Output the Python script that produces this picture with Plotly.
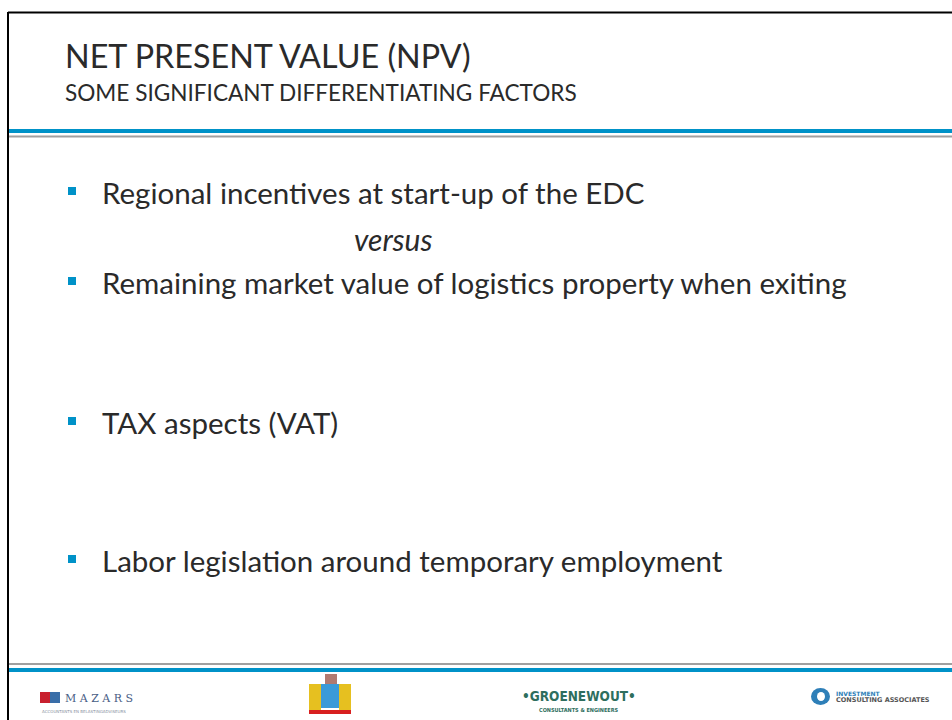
import plotly.graph_objects as go

title = "NET PRESENT VALUE (NPV)"
subtitle = "SOME SIGNIFICANT DIFFERENTIATING FACTORS"
bullet_items = [
    "Regional incentives at start-up of the EDC",
    "Remaining market value of logistics property when exiting",
    "TAX aspects (VAT)",
    "Labor legislation around temporary employment",
]
bullet_y = [191, 281, 421, 559]
between_word = "versus"

blue = "#0092C8"
grey_line = "#A0A0A0"
text_col = "#2A2A2A"
font_name = "Lato"

fig = go.Figure()

# bullet squares
fig.add_trace(go.Scatter(
    x=[72] * len(bullet_y), y=bullet_y, mode="markers",
    marker=dict(symbol="square", size=8, color=blue),
    hoverinfo="skip", showlegend=False))

annotations = []
for txt, y in zip(bullet_items, bullet_y):
    annotations.append(dict(x=100, y=y + 1, text=txt, xanchor="left", yanchor="middle",
                            showarrow=False, font=dict(family=font_name, size=29.5, color=text_col)))

annotations.append(dict(x=393, y=239, text="<i>" + between_word + "</i>", xanchor="center",
                        yanchor="middle", showarrow=False,
                        font=dict(family=font_name, size=30, color=text_col)))

annotations.append(dict(x=63, y=55, text=title, xanchor="left", yanchor="middle", showarrow=False,
                        font=dict(family=font_name, size=32.3, color=text_col)))
annotations.append(dict(x=63, y=92, text=subtitle, xanchor="left", yanchor="middle", showarrow=False,
                        font=dict(family=font_name, size=22.6, color=text_col)))

# footer logos (simplified)
annotations += [
    dict(x=63, y=698, text="M A Z A R S", xanchor="left", yanchor="middle", showarrow=False,
         font=dict(family="DejaVu Serif", size=11, color="#4A5E86")),
    dict(x=40, y=711, text="ACCOUNTANTS EN BELASTINGADVISEURS", xanchor="left", yanchor="middle",
         showarrow=False, font=dict(family="DejaVu Sans", size=4, color="#8890A0")),
    dict(x=579, y=696, text="<b>•GROENEWOUT•</b>", xanchor="center", yanchor="middle", showarrow=False,
         font=dict(family="DejaVu Sans Condensed", size=13.5, color="#2E6E5E")),
    dict(x=579, y=710, text="<b>CONSULTANTS &amp; ENGINEERS</b>", xanchor="center", yanchor="middle",
         showarrow=False, font=dict(family="DejaVu Sans Condensed", size=5.5, color="#2E6E5E")),
    dict(x=834, y=693, text="<b>INVESTMENT</b>", xanchor="left", yanchor="middle", showarrow=False,
         font=dict(family="DejaVu Sans", size=6, color="#2E7FB8")),
    dict(x=834, y=700, text="<b>CONSULTING ASSOCIATES</b>", xanchor="left", yanchor="middle",
         showarrow=False, font=dict(family="DejaVu Sans", size=6.5, color="#555555")),
]

shapes = [
    # slide border
    dict(type="line", x0=8, x1=952, y0=12.5, y1=12.5, line=dict(color="black", width=2)),
    dict(type="line", x0=8, x1=8, y0=12, y1=720, line=dict(color="black", width=2)),
    # header lines
    dict(type="rect", x0=9, x1=952, y0=129, y1=133, fillcolor=blue, line_width=0),
    dict(type="rect", x0=9, x1=952, y0=135.5, y1=137.5, fillcolor=grey_line, line_width=0),
    # footer lines
    dict(type="rect", x0=9, x1=952, y0=663, y1=665, fillcolor=grey_line, line_width=0),
    dict(type="rect", x0=9, x1=952, y0=668, y1=672, fillcolor=blue, line_width=0),
    # mazars squares
    dict(type="rect", x0=40, x1=50, y0=692, y1=703, fillcolor="#C8202E", line_width=0),
    dict(type="rect", x0=50, x1=60, y0=692, y1=703, fillcolor="#3A6EA8", line_width=0),
    # coat of arms
    dict(type="rect", x0=325, x1=337, y0=674, y1=684, fillcolor="#B07A70", line_width=0),
    dict(type="rect", x0=309, x1=321, y0=684, y1=710, fillcolor="#E6C020", line_width=0),
    dict(type="rect", x0=339, x1=351, y0=684, y1=710, fillcolor="#E6C020", line_width=0),
    dict(type="rect", x0=321, x1=339, y0=684, y1=708, fillcolor="#3A9AD8", line_width=0),
    dict(type="rect", x0=309, x1=351, y0=710, y1=714, fillcolor="#D82020", line_width=0),
    # ICA circle
    dict(type="circle", x0=811, x1=830, y0=688, y1=705, fillcolor="#2E7FB8", line_width=0),
    dict(type="circle", x0=817, x1=825, y0=692, y1=701, fillcolor="white", line_width=0),
]

fig.update_layout(
    width=952, height=720,
    margin=dict(l=0, r=0, t=0, b=0),
    paper_bgcolor="white", plot_bgcolor="white",
    xaxis=dict(range=[0, 952], visible=False, fixedrange=True),
    yaxis=dict(range=[720, 0], visible=False, fixedrange=True),
    annotations=annotations, shapes=shapes,
)

fig.write_html("out.html", config={"displayModeBar": False},
               post_script="document.body.style.margin='0';document.body.style.overflow='hidden';")
